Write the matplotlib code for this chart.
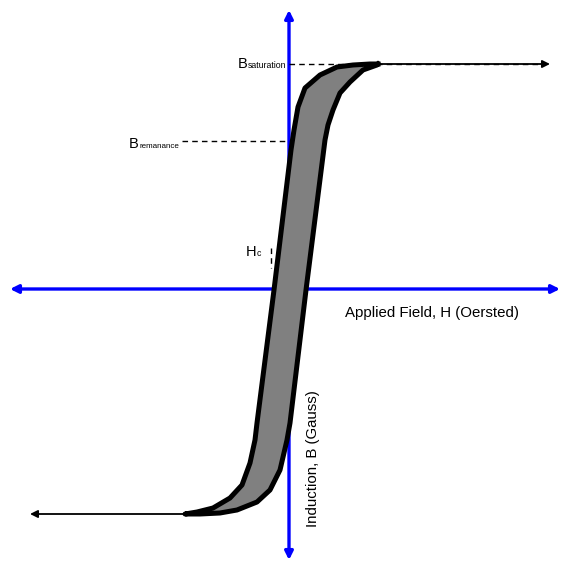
import matplotlib
matplotlib.use('Agg')
import matplotlib.pyplot as plt

plt.rcParams['font.family'] = ['Liberation Sans', 'DejaVu Sans']

# Coordinates (pixel space, y grows downward)
# descending branch (left side of the loop), top-right -> bottom-left
upper_x = [378, 370, 353, 337, 320, 305, 298, 294, 291, 274, 257, 255, 250, 242, 230, 213, 197, 185]
upper_y = [64, 64, 65, 67, 75, 88, 107, 130, 150, 290, 423, 440, 463, 485, 498, 508, 512, 514]
# ascending branch (right side of the loop), bottom-left -> top-right
lower_x = [185, 200, 220, 237, 257, 270, 280, 287, 290, 306, 325, 328, 333, 340, 350, 363, 377, 378]
lower_y = [514, 514, 513, 510, 502, 490, 470, 440, 423, 290, 140, 125, 110, 93, 82, 70, 65, 64]

# saturation tails: (start x, arrow tip x, y)
sat_right = (378, 550, 64)
sat_left = (185, 30, 514)

# reference marks
b_sat_y = 64
b_rem_y = 141
b_rem_x0 = 182
hc_x = 271
hc_y = (248, 268)

fig = plt.figure(figsize=(5.63, 5.66), dpi=100)
ax = fig.add_axes([0, 0, 1, 1])
ax.set_xlim(0, 563)
ax.set_ylim(566, 0)
ax.axis('off')

# loop fill and outline
loop_x = upper_x + lower_x[1:]
loop_y = upper_y + lower_y[1:]
ax.fill(loop_x, loop_y, color='#808080', zorder=2)
ax.plot(loop_x, loop_y, color='black', lw=3.6, solid_joinstyle='round', zorder=3)

# blue axes
blue = dict(arrowstyle='<|-|>', color='#0000ff', lw=2.4, mutation_scale=12, shrinkA=0, shrinkB=0)
ax.annotate('', xy=(289, 10), xytext=(289, 560), arrowprops=blue, zorder=1)
ax.annotate('', xy=(10, 289), xytext=(560, 289), arrowprops=blue, zorder=1)

# saturation tails with arrows
tail = dict(arrowstyle='-|>', color='black', lw=1.3, mutation_scale=11, shrinkA=0, shrinkB=0)
ax.annotate('', xy=(sat_right[1], sat_right[2]), xytext=(sat_right[0], sat_right[2]), arrowprops=tail, zorder=4)
ax.annotate('', xy=(sat_left[1], sat_left[2]), xytext=(sat_left[0], sat_left[2]), arrowprops=tail, zorder=4)

# dashed reference lines
ax.plot([289, 545], [b_sat_y, b_sat_y], color='black', lw=1, ls=(0, (4, 3)), zorder=4)
ax.plot([b_rem_x0, 289], [b_rem_y, b_rem_y], color='black', lw=1, ls=(0, (4, 3)), zorder=4)
ax.plot([hc_x, hc_x], list(hc_y), color='black', lw=1, ls=(0, (4, 3)), zorder=5)

# labels
ax.text(238, 68, 'B', fontsize=10.5, ha='left', va='baseline')
ax.text(248, 68.5, 'saturation', fontsize=6.3, ha='left', va='baseline')
ax.text(129, 148, 'B', fontsize=10.5, ha='left', va='baseline')
ax.text(139, 148.5, 'remanance', fontsize=5.8, ha='left', va='baseline')
ax.text(246, 256, 'H', fontsize=10.5, ha='left', va='baseline')
ax.text(257, 256.5, 'c', fontsize=6.3, ha='left', va='baseline')
ax.text(345, 313, 'Applied Field, H (Oersted)', fontsize=10.8, ha='left', va='center')
ax.text(313, 459, 'Induction, B (Gauss)', fontsize=10.8, ha='center', va='center', rotation=90)

fig.savefig('out.png', dpi=100)
